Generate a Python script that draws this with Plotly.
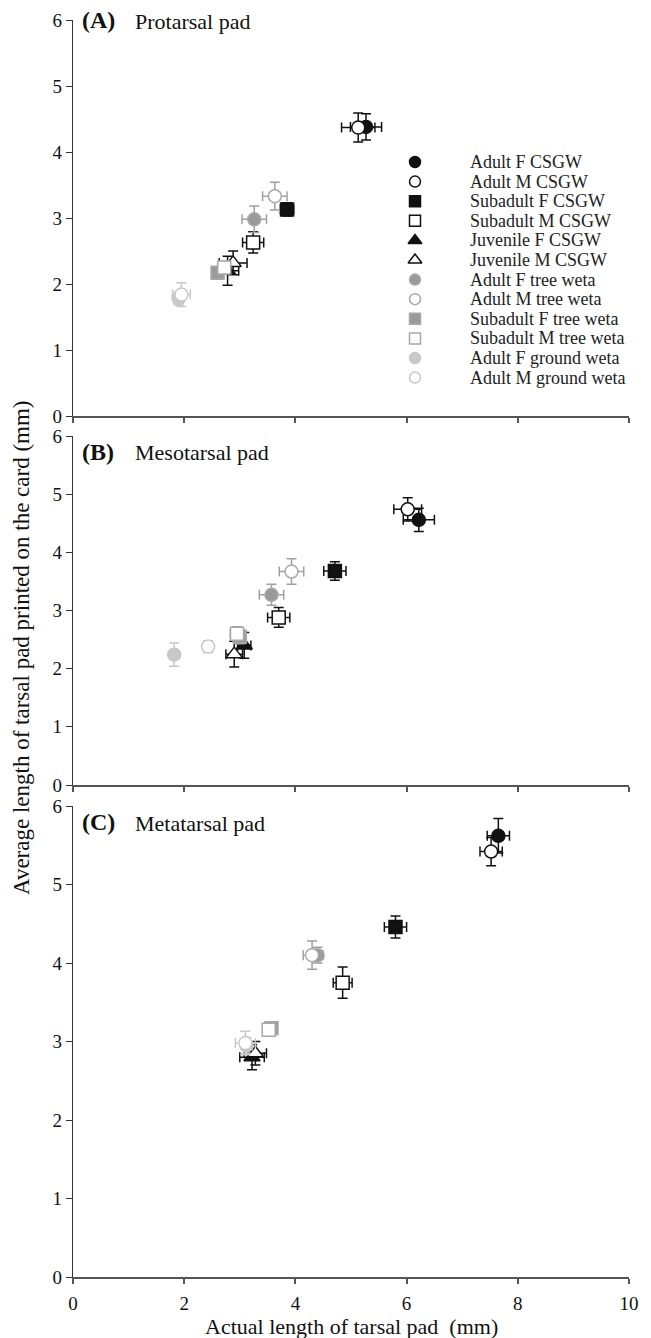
import plotly.graph_objects as go

# ---------------- data ----------------
groups = ["Adult F CSGW", "Adult M CSGW", "Subadult F CSGW", "Subadult M CSGW",
          "Juvenile F CSGW", "Juvenile M CSGW", "Adult F tree weta", "Adult M tree weta",
          "Subadult F tree weta", "Subadult M tree weta", "Adult F ground weta",
          "Adult M ground weta"]

panel_titles = ["(A)", "(B)", "(C)"]
panel_names = ["Protarsal pad", "Mesotarsal pad", "Metatarsal pad"]

# Panel A - protarsal pad
a_x = [5.27, 5.13, 3.85, 3.24, 2.78, 2.88, 3.26, 3.63, 2.60, 2.72, 1.90, 1.95]
a_y = [4.38, 4.37, 3.13, 2.63, 2.20, 2.32, 2.98, 3.33, 2.17, 2.25, 1.78, 1.84]
a_xe = [0.28, 0.30, 0.12, 0.19, 0.20, 0.25, 0.22, 0.22, 0.05, 0.10, 0.08, 0.16]
a_ye = [0.20, 0.22, 0.10, 0.16, 0.22, 0.18, 0.20, 0.21, 0.05, 0.10, 0.10, 0.18]

# Panel B - mesotarsal pad
b_x = [6.22, 6.02, 4.71, 3.70, 3.08, 2.90, 3.57, 3.93, 3.00, 2.95, 1.82, 2.43]
b_y = [4.56, 4.74, 3.68, 2.88, 2.40, 2.25, 3.27, 3.67, 2.55, 2.60, 2.24, 2.38]
b_xe = [0.28, 0.25, 0.20, 0.20, 0.12, 0.15, 0.22, 0.22, 0.10, 0.12, 0.03, 0.07]
b_ye = [0.20, 0.20, 0.16, 0.17, 0.22, 0.22, 0.18, 0.22, 0.12, 0.12, 0.20, 0.10]

# Panel C - metatarsal pad
c_x = [7.65, 7.52, 5.80, 4.85, 3.22, 3.28, 4.40, 4.30, 3.57, 3.52, 3.12, 3.10]
c_y = [5.62, 5.42, 4.46, 3.75, 2.80, 2.85, 4.10, 4.10, 3.17, 3.15, 2.95, 2.98]
c_xe = [0.20, 0.20, 0.20, 0.17, 0.22, 0.20, 0.10, 0.16, 0.05, 0.05, 0.10, 0.18]
c_ye = [0.22, 0.18, 0.14, 0.20, 0.16, 0.15, 0.10, 0.18, 0.05, 0.05, 0.10, 0.15]

x_ticks = [0, 2, 4, 6, 8, 10]
y_ticks = [0, 1, 2, 3, 4, 5, 6]

# ---------------- styles ----------------
BLACK, GRAY, LIGHT = "#111111", "#9a9a9a", "#c8c8c8"
symbols = ["circle", "circle", "square", "square", "triangle-up", "triangle-up",
           "circle", "circle", "square", "square", "circle", "circle"]
edge = [BLACK] * 6 + ["#a8a8a8"] * 4 + [LIGHT] * 2
fills = [BLACK, "white", BLACK, "white", BLACK, "white",
         GRAY, "white", GRAY, "white", LIGHT, "white"]
errc = [BLACK] * 6 + ["#a0a0a0"] * 4 + [LIGHT] * 2

FONT = "Liberation Serif"
OFF = 8                      # page body margin
W, H = 651 - OFF, 1338 - OFF
# plot area in page pixels: x 73..629, y 20..1277
L, T = 73 - OFF, 20 - OFF
R, B = (OFF + W) - 629, (OFF + H) - 1277
PW, PH = 629 - 73, 1277 - 20

def px(p):  # page pixel column -> paper x
    return (p - 73) / PW

def py(p):  # page pixel row -> paper y
    return 1 - (p - 20) / PH

domains = [(py(416), py(20)), (py(785), py(436)), (py(1277), py(806))]
panels = [(a_x, a_y, a_xe, a_ye), (b_x, b_y, b_xe, b_ye), (c_x, c_y, c_xe, c_ye)]

fig = go.Figure()

# ---- legend (drawn on a hidden axis pair overlaid on panel A) ----
LEG_ROW0, LEG_STEP = 162, 19.6
LEG_MX, LEG_TX = 415, 468
leg_rows = list(range(len(groups)))
for i, g in enumerate(groups):
    fig.add_trace(go.Scatter(
        x=[LEG_MX], y=[leg_rows[i]], mode="markers", name=g, legendgroup=g,
        showlegend=False, xaxis="x4", yaxis="y4", hoverinfo="skip",
        marker=dict(symbol=symbols[i], size=11 if symbols[i] != "triangle-up" else 12,
                    color=fills[i], line=dict(color=edge[i], width=1.5))))

for k, (xs, ys, xes, yes) in enumerate(panels):
    sfx = "" if k == 0 else str(k + 1)
    for i, g in enumerate(groups):
        fig.add_trace(go.Scatter(
            x=[xs[i]], y=[ys[i]], mode="markers", name=g,
            legendgroup=g, showlegend=False,
            xaxis="x" + sfx, yaxis="y" + sfx,
            marker=dict(symbol=symbols[i], size=13 if symbols[i] != "triangle-up" else 14,
                        color=fills[i], line=dict(color=edge[i], width=1.5)),
            error_x=dict(type="data", array=[xes[i]], color=errc[i], thickness=1.5, width=5),
            error_y=dict(type="data", array=[yes[i]], color=errc[i], thickness=1.5, width=5),
        ))

layout = dict(
    width=W, height=H, paper_bgcolor="white", plot_bgcolor="white",
    margin=dict(l=L, r=R, t=T, b=B, autoexpand=False),
    font=dict(family=FONT, size=18, color="#111"),
    showlegend=False,
)
for k in range(3):
    sfx = "" if k == 0 else str(k + 1)
    layout["xaxis" + sfx] = dict(
        domain=[0, 1], range=[0, 10], anchor="y" + sfx, automargin=False,
        tickvals=x_ticks, ticks="outside", ticklen=5, tickwidth=1.5, tickcolor="#555",
        showticklabels=(k == 2), ticklabelstandoff=3,
        showline=True, linecolor="#555", linewidth=2,
        showgrid=False, zeroline=False, fixedrange=True,
        tickfont=dict(family=FONT, size=19, color="#111"))
    layout["yaxis" + sfx] = dict(
        domain=list(domains[k]), range=[0, 6], anchor="x" + sfx, automargin=False,
        tickvals=y_ticks, ticks="outside", ticklen=6, tickwidth=1.2, tickcolor="#333",
        showline=True, linecolor="#333", linewidth=1.3,
        showgrid=False, zeroline=False, fixedrange=True,
        tickfont=dict(family=FONT, size=19, color="#111"))

layout["xaxis4"] = dict(domain=[0, 1], range=[73, 629], anchor="y4", overlaying="x",
                        visible=False, fixedrange=True, automargin=False)
layout["yaxis4"] = dict(domain=list(domains[0]), anchor="x4", overlaying="y",
                        visible=False, fixedrange=True, automargin=False,
                        range=[(416 - LEG_ROW0) / LEG_STEP, (20 - LEG_ROW0) / LEG_STEP])

label_rows = [20, 452, 822]
ann = []
for k in range(3):
    ann.append(dict(xref="paper", yref="paper", x=px(80), y=py(label_rows[k]),
                    xanchor="left", yanchor="middle", showarrow=False,
                    text="<b>" + panel_titles[k] + "</b>",
                    font=dict(family=FONT, size=24, color="#111")))
    ann.append(dict(xref="paper", yref="paper", x=px(133), y=py(label_rows[k] + 1),
                    xanchor="left", yanchor="middle", showarrow=False,
                    text=panel_names[k], font=dict(family=FONT, size=22, color="#111")))
for i, g in enumerate(groups):
    ann.append(dict(xref="x4", yref="y4", x=LEG_TX, y=leg_rows[i], xanchor="left",
                    yanchor="middle", showarrow=False, text=g,
                    font=dict(family=FONT, size=18, color="#222")))
ann.append(dict(xref="paper", yref="paper", x=px(22), y=py(648), xanchor="center",
                yanchor="middle", showarrow=False, textangle=-90,
                text="Average length of tarsal pad printed on the card (mm)",
                font=dict(family=FONT, size=23, color="#111")))
ann.append(dict(xref="paper", yref="paper", x=px(351), y=py(1326), xanchor="center",
                yanchor="middle", showarrow=False,
                text="Actual length of tarsal pad  (mm)",
                font=dict(family=FONT, size=22, color="#111")))
layout["annotations"] = ann

fig.update_layout(**layout)
fig.write_html("out.html")
